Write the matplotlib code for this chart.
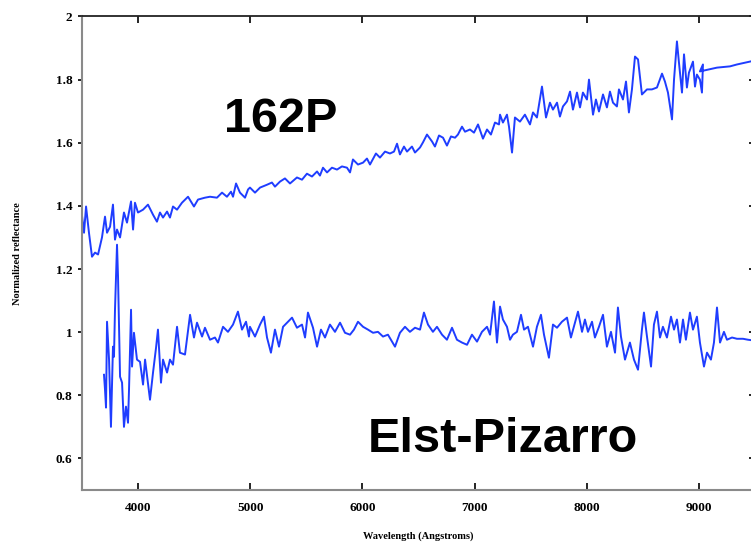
import matplotlib
matplotlib.use("Agg")
import matplotlib.pyplot as plt

# Reflectance spectrum of comet 162P (wavelength in Angstroms, normalized reflectance)
wl_162p = [3500, 3518, 3536, 3562, 3589, 3616, 3643, 3678, 3705, 3723, 3750, 3776, 3794, 3812,
           3839, 3874, 3901, 3937, 3955, 3972, 3999, 4044, 4088, 4133, 4168, 4195, 4222, 4258,
           4284, 4311, 4347, 4391, 4445, 4498, 4534, 4596, 4641, 4703, 4748, 4792, 4828, 4846,
           4873, 4908, 4953, 4980, 4997, 5042, 5087, 5149, 5193, 5220, 5265, 5309, 5354, 5416,
           5461, 5505, 5550, 5595, 5621, 5648, 5684, 5728, 5773, 5817, 5862, 5889, 5915, 5960,
           6005, 6040, 6067, 6120, 6156, 6201, 6245, 6281, 6308, 6334, 6370, 6397, 6441, 6468,
           6513, 6539, 6575, 6620, 6646, 6682, 6718, 6753, 6789, 6825, 6851, 6887, 6914, 6958,
           6994, 7030, 7074, 7110, 7145, 7181, 7217, 7226, 7252, 7288, 7306, 7333, 7359, 7404,
           7448, 7493, 7520, 7555, 7600, 7636, 7671, 7698, 7734, 7760, 7787, 7823, 7850, 7876,
           7912, 7939, 7965, 8001, 8019, 8055, 8081, 8108, 8144, 8179, 8206, 8233, 8268, 8286,
           8322, 8349, 8375, 8402, 8429, 8456, 8491, 8536, 8580, 8625, 8670, 8696, 8723, 8759,
           8777, 8803, 8821, 8848, 8866, 8892, 8910, 8946, 8964, 8981, 9008, 9026, 9035, 9008,
           9160, 9276, 9338, 9454, 9500]
refl_162p = [1.369, 1.315, 1.398, 1.315, 1.239, 1.252, 1.246, 1.300, 1.366, 1.315, 1.334, 1.404,
             1.293, 1.325, 1.300, 1.379, 1.347, 1.414, 1.325, 1.410, 1.379, 1.388, 1.404, 1.372,
             1.350, 1.379, 1.363, 1.382, 1.363, 1.398, 1.388, 1.410, 1.429, 1.398, 1.420, 1.426,
             1.429, 1.426, 1.442, 1.429, 1.445, 1.429, 1.471, 1.442, 1.426, 1.452, 1.458, 1.442,
             1.458, 1.467, 1.474, 1.461, 1.477, 1.487, 1.471, 1.490, 1.483, 1.502, 1.493, 1.509,
             1.496, 1.521, 1.506, 1.521, 1.515, 1.525, 1.521, 1.506, 1.547, 1.531, 1.537, 1.550,
             1.531, 1.566, 1.553, 1.572, 1.566, 1.572, 1.597, 1.563, 1.588, 1.572, 1.588, 1.569,
             1.585, 1.601, 1.626, 1.604, 1.588, 1.623, 1.616, 1.591, 1.620, 1.616, 1.626, 1.651,
             1.635, 1.642, 1.632, 1.658, 1.613, 1.642, 1.626, 1.664, 1.658, 1.689, 1.664, 1.689,
             1.651, 1.569, 1.680, 1.667, 1.689, 1.658, 1.696, 1.680, 1.778, 1.680, 1.727, 1.705,
             1.727, 1.683, 1.715, 1.731, 1.762, 1.705, 1.759, 1.712, 1.759, 1.737, 1.800, 1.689,
             1.737, 1.699, 1.753, 1.712, 1.762, 1.727, 1.715, 1.769, 1.737, 1.794, 1.696, 1.769,
             1.873, 1.864, 1.753, 1.769, 1.769, 1.775, 1.819, 1.794, 1.759, 1.674, 1.800, 1.921,
             1.854, 1.759, 1.880, 1.775, 1.822, 1.857, 1.778, 1.816, 1.800, 1.759, 1.848, 1.826,
             1.838, 1.842, 1.848, 1.857, 1.861]

# Reflectance spectrum of Elst-Pizarro
wl_ep = [3696, 3705, 3714, 3723, 3741, 3758, 3776, 3785, 3794, 3812, 3821, 3839, 3857, 3874,
         3892, 3910, 3919, 3937, 3946, 3963, 3990, 4017, 4044, 4062, 4106, 4133, 4160, 4177,
         4204, 4222, 4258, 4284, 4311, 4347, 4373, 4418, 4463, 4498, 4525, 4570, 4596, 4641,
         4685, 4712, 4757, 4801, 4846, 4890, 4926, 4962, 4988, 4997, 5042, 5087, 5122, 5149,
         5184, 5220, 5256, 5292, 5336, 5372, 5416, 5461, 5488, 5514, 5559, 5595, 5630, 5666,
         5710, 5755, 5800, 5844, 5889, 5924, 5960, 6005, 6049, 6094, 6138, 6183, 6227, 6290,
         6334, 6379, 6423, 6468, 6513, 6548, 6584, 6628, 6664, 6709, 6753, 6798, 6842, 6887,
         6932, 6976, 7021, 7065, 7110, 7137, 7172, 7199, 7226, 7252, 7288, 7315, 7341, 7377,
         7413, 7440, 7475, 7520, 7555, 7591, 7618, 7662, 7698, 7734, 7778, 7823, 7858, 7894,
         7921, 7957, 7983, 8010, 8046, 8072, 8108, 8144, 8179, 8215, 8251, 8277, 8304, 8340,
         8384, 8420, 8456, 8491, 8509, 8536, 8572, 8598, 8625, 8652, 8678, 8714, 8750, 8777,
         8803, 8830, 8857, 8883, 8919, 8946, 8981, 9008, 9044, 9071, 9106, 9133, 9160, 9187,
         9222, 9249, 9294, 9338, 9392, 9436, 9500]
refl_ep = [0.865, 0.818, 0.761, 1.033, 0.913, 0.700, 0.954, 0.922, 1.071, 1.277, 1.176, 0.859,
           0.840, 0.700, 0.764, 0.713, 0.818, 1.071, 0.891, 0.998, 0.913, 0.906, 0.834, 0.913,
           0.786, 0.872, 0.951, 1.008, 0.840, 0.913, 0.872, 0.913, 0.897, 1.017, 0.935, 0.929,
           1.055, 0.983, 1.030, 0.986, 1.014, 0.976, 0.983, 0.967, 1.017, 1.001, 1.024, 1.065,
           1.008, 1.033, 0.986, 1.017, 0.986, 1.024, 1.049, 0.983, 0.935, 1.008, 0.954, 1.017,
           1.033, 1.046, 1.014, 1.024, 0.983, 1.062, 1.014, 0.954, 1.008, 0.983, 1.024, 1.001,
           1.030, 0.998, 0.992, 1.008, 1.033, 1.017, 1.008, 0.998, 1.001, 0.986, 0.992, 0.954,
           0.998, 1.017, 1.001, 1.014, 1.008, 1.062, 1.024, 1.001, 1.017, 0.992, 0.976, 1.014,
           0.976, 0.967, 0.960, 0.992, 0.970, 1.001, 1.017, 0.992, 1.097, 0.967, 1.081, 1.040,
           1.017, 0.976, 0.992, 1.001, 1.055, 1.008, 1.017, 0.954, 1.017, 1.055, 0.992, 0.919,
           1.024, 1.014, 1.033, 1.046, 0.983, 1.030, 1.065, 1.001, 1.040, 1.001, 1.033, 0.983,
           1.017, 1.055, 0.954, 1.001, 0.935, 1.078, 0.986, 0.913, 0.967, 0.913, 0.881, 1.008,
           1.062, 0.986, 0.891, 1.024, 1.065, 0.983, 1.017, 0.983, 1.049, 1.008, 1.040, 0.967,
           1.040, 0.976, 1.062, 1.008, 1.049, 0.967, 0.891, 0.935, 0.913, 0.967, 1.078, 0.967,
           1.001, 0.976, 0.983, 0.979, 0.979, 0.976, 0.973]

x_ticks = [4000, 5000, 6000, 7000, 8000, 9000]
x_tick_labels = ["4000", "5000", "6000", "7000", "8000", "9000"]
y_ticks = [0.6, 0.8, 1.0, 1.2, 1.4, 1.6, 1.8, 2.0]
y_tick_labels = ["0.6", "0.8", "1", "1.2", "1.4", "1.6", "1.8", "2"]

LINE_COLOR = "#1f3dff"
SERIF = ["Liberation Serif", "DejaVu Serif"]

fig = plt.figure(figsize=(7.51, 5.46), dpi=100)
ax = fig.add_axes([0.1092, 0.1026, 0.8963, 0.8672])

ax.plot(wl_162p, refl_162p, color=LINE_COLOR, lw=1.4)
ax.plot(wl_ep, refl_ep, color=LINE_COLOR, lw=1.4)

ax.set_xlim(3500, 9500)
ax.set_ylim(0.5, 2.0)

ax.set_xticks(x_ticks)
ax.set_xticklabels(x_tick_labels, fontfamily=SERIF, fontsize=9.5, fontweight="bold")
ax.set_yticks(y_ticks)
ax.set_yticklabels(y_tick_labels, fontfamily=SERIF, fontsize=9.5, fontweight="bold")

ax.tick_params(axis="x", direction="in", length=5, width=1.2, top=True, pad=9, color="black")
ax.tick_params(axis="y", which="both", left=True, right=True, width=1.2, color="black")
ax.tick_params(axis="y", direction="out", length=3, pad=4)
for t in ax.yaxis.get_ticklines()[1::2]:
    t.set_marker(0)  # right-side ticks point inward
    t.set_markersize(4)

for side in ("left", "bottom"):
    ax.spines[side].set_color("#8a8a8a")
    ax.spines[side].set_linewidth(1.5)
for side in ("top", "right"):
    ax.spines[side].set_color("#222222")
    ax.spines[side].set_linewidth(1.3)

ax.set_xlabel("Wavelength (Angstroms)", fontfamily=SERIF, fontsize=7.5, fontweight="bold",
              labelpad=12)
ax.set_ylabel("Normalized reflectance", fontfamily=SERIF, fontsize=7.5, fontweight="bold",
              labelpad=24)

ax.text(5274, 1.674, "162P", fontfamily=["Liberation Sans", "DejaVu Sans"], fontweight="bold",
        fontsize=35, ha="center", va="center")
ax.text(7252, 0.659, "Elst-Pizarro", fontfamily=["Liberation Sans", "DejaVu Sans"],
        fontweight="bold", fontsize=35, ha="center", va="center")

fig.savefig("out.png", dpi=100)
